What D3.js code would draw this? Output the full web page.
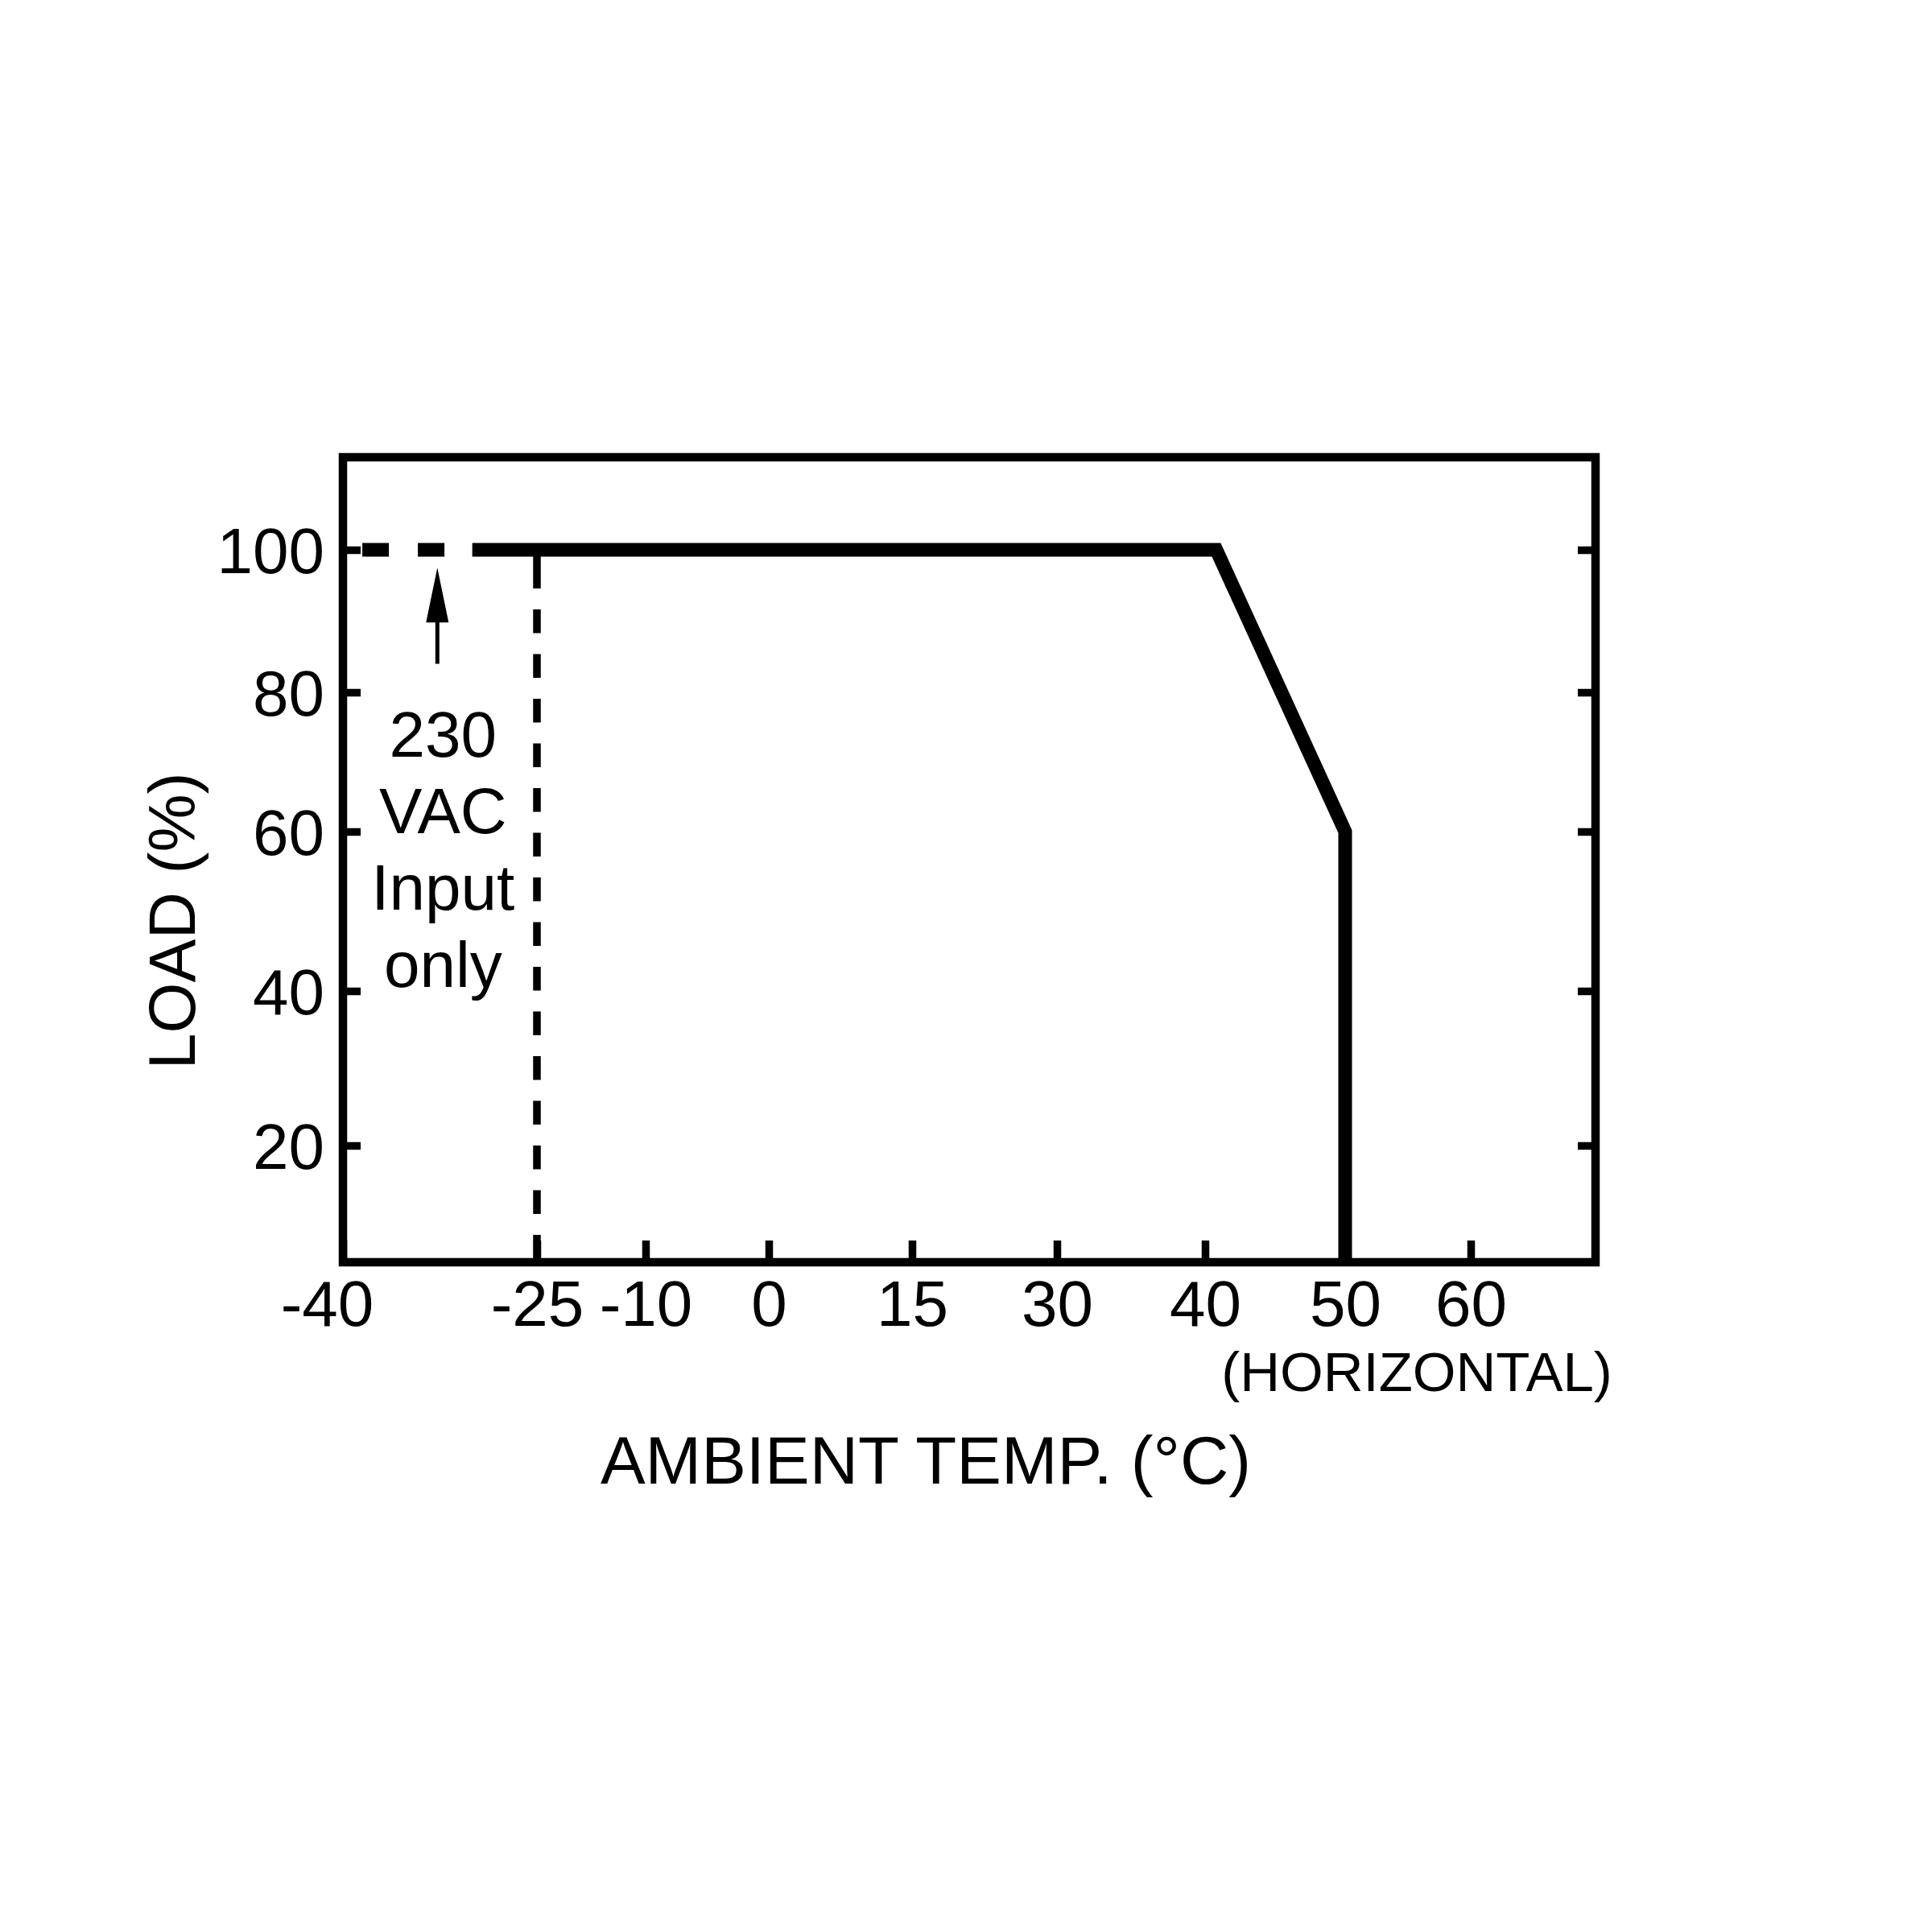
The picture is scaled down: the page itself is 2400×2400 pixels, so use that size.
<!DOCTYPE html>
<html>
<head>
<meta charset="utf-8">
<script src="https://cdn.jsdelivr.net/npm/d3@7"></script>
<style>
  html, body { margin: 0; padding: 0; background: #ffffff; }
  svg { display: block; }
  text { font-family: "Liberation Sans", Arial, Helvetica, sans-serif; fill: #000; }
</style>
</head>
<body>
<svg id="chart" width="2400" height="2400"></svg>
<script>
// ---------------- data ----------------
const xTickValues = [-40, -25, -10, 0, 15, 30, 40, 50, 60];
const xTickLabels = ["-40", "-25", "-10", "0", "15", "30", "40", "50", "60"];
const yTickValues = [20, 40, 60, 80, 100];
const yTickLabels = ["20", "40", "60", "80", "100"];

// derating curve (solid): ambient temp (°C) vs load (%)
const curveTemp = [-30, 40.8, 50, 50];
const curveLoad = [100, 100, 60, 0];

// 230VAC-only extension (dashed)
const dashedTemp = [-38.5, -30];
const dashedLoad = [100, 100];

// vertical limit line at -25 °C
const limitTemp = [-25, -25];
const limitLoad = [100, 0];

// annotation
const arrowTemp = -32.7;
const arrowLoad = [84, 97.5];       // tail, tip
const noteLines = ["230", "VAC", "Input", "only"];

const xTitle = "AMBIENT TEMP. (°C)";
const xSubTitle = "(HORIZONTAL)";
const yTitle = "LOAD (%)";

// ---------------- scales (non-uniform tick spacing as in the drawing) ----------------
const x = d3.scaleLinear()
  .domain([-40, -25, -10, 0, 15, 30, 40, 50, 60, 70])
  .range([426, 667, 802, 955, 1133, 1313, 1497, 1671, 1827, 1982]);
const y = d3.scaleLinear()
  .domain([0, 20, 40, 60, 80, 100, 113])
  .range([1568, 1423, 1231, 1033, 860, 683, 568]);

const svg = d3.select("#chart");
svg.append("rect").attr("width", 2400).attr("height", 2400).attr("fill", "#fff");

const [x0, x1] = [x(-40), x(70)];
const [yb, yt] = [y(0), y(113)];

// ---------------- axes ----------------
const fontSize = 80;

const bottom = svg.append("g")
  .attr("transform", `translate(0,${yb})`)
  .call(d3.axisBottom(x).tickValues(xTickValues)
    .tickFormat((d, i) => xTickLabels[i])
    .tickSizeInner(-27).tickSizeOuter(0).tickPadding(22));

const left = svg.append("g")
  .attr("transform", `translate(${x0},0)`)
  .call(d3.axisLeft(y).tickValues(yTickValues)
    .tickFormat((d, i) => yTickLabels[i])
    .tickSizeInner(-22).tickSizeOuter(0).tickPadding(23));

const right = svg.append("g")
  .attr("transform", `translate(${x1},0)`)
  .call(d3.axisRight(y).tickValues(yTickValues)
    .tickFormat("")
    .tickSizeInner(-22).tickSizeOuter(0));

[bottom, left, right].forEach(g => {
  g.select(".domain").remove();
  g.selectAll(".tick line").attr("stroke", "#000").attr("stroke-width", 9.5);
  g.selectAll(".tick text")
    .attr("font-size", fontSize)
    .attr("font-family", "'Liberation Sans', Arial, sans-serif")
    .attr("fill", "#000");
});
left.selectAll(".tick text").attr("dy", "0.36em");
// the corner label sits slightly left of the frame corner in the drawing
bottom.selectAll(".tick text").filter(d => d === -40).attr("dx", -20);

// frame
svg.append("rect")
  .attr("x", x0).attr("y", yt)
  .attr("width", x1 - x0).attr("height", yb - yt)
  .attr("fill", "none").attr("stroke", "#000").attr("stroke-width", 10.5);

// ---------------- marks ----------------
const line = d3.line().x(d => x(d[0])).y(d => y(d[1]));

// -25°C limit (dashed vertical)
const limitDash = [48, 26];
for (let i = 0; i < 24; i++) limitDash.push(29.5, 26);
svg.append("path")
  .datum(limitTemp.map((t, i) => [t, limitLoad[i]]))
  .attr("d", line)
  .attr("fill", "none").attr("stroke", "#000").attr("stroke-width", 9.5)
  .attr("stroke-dasharray", limitDash.join(","));

// dashed extension at 100 %
svg.append("path")
  .datum(dashedTemp.map((t, i) => [t, dashedLoad[i]]))
  .attr("d", line)
  .attr("fill", "none").attr("stroke", "#000").attr("stroke-width", 17)
  .attr("stroke-dasharray", "33,36");

// main derating curve
svg.append("path")
  .datum(curveTemp.map((t, i) => [t, curveLoad[i]]))
  .attr("d", line)
  .attr("fill", "none").attr("stroke", "#000").attr("stroke-width", 17)
  .attr("stroke-linejoin", "miter").attr("stroke-linecap", "butt");

// arrow
const ax = x(arrowTemp);
const tailY = y(arrowLoad[0]);
const tipY = y(arrowLoad[1]);
const headLen = 68, headW = 28;
svg.append("line")
  .attr("x1", ax).attr("x2", ax)
  .attr("y1", tailY).attr("y2", tipY + headLen - 2)
  .attr("stroke", "#000").attr("stroke-width", 5);
svg.append("path")
  .attr("d", `M${ax},${tipY} L${ax + headW / 2},${tipY + headLen} L${ax - headW / 2},${tipY + headLen} Z`)
  .attr("fill", "#000");

// annotation text
svg.append("g").selectAll("text")
  .data(noteLines).join("text")
  .attr("x", ax + 7)
  .attr("y", (d, i) => tailY + 115 + i * 95.3)
  .attr("text-anchor", "middle")
  .attr("font-size", fontSize)
  .text(d => d);

// ---------------- titles ----------------
svg.append("text")
  .attr("x", 1760).attr("y", 1728)
  .attr("text-anchor", "middle")
  .attr("font-size", 69)
  .text(xSubTitle);

svg.append("text")
  .attr("x", 1150).attr("y", 1843)
  .attr("text-anchor", "middle")
  .attr("font-size", 83.5)
  .text(xTitle);

svg.append("text")
  .attr("transform", `translate(242,1144) rotate(-90)`)
  .attr("text-anchor", "middle")
  .attr("font-size", 81)
  .text(yTitle);
</script>
</body>
</html>
